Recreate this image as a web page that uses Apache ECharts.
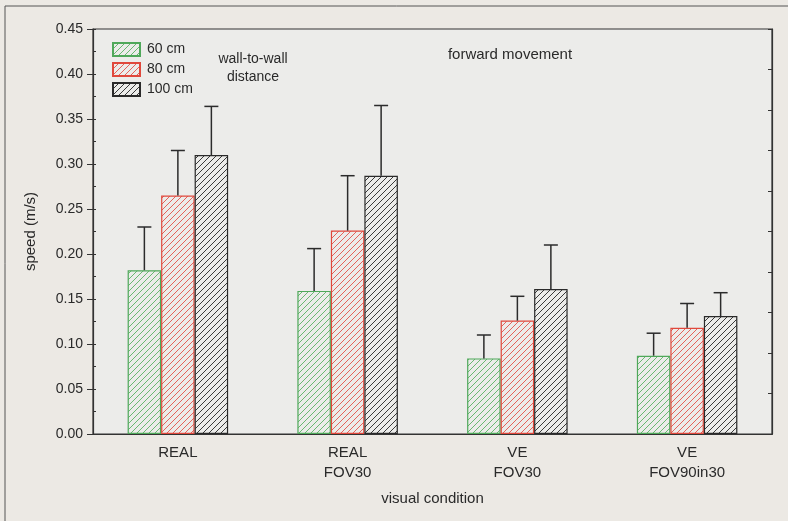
<!DOCTYPE html>
<html><head><meta charset="utf-8">
<script src="https://cdn.jsdelivr.net/npm/echarts@6/dist/echarts.min.js"></script>
<style>html,body{margin:0;padding:0;background:#ece9e4;}#c{width:788px;height:521px;}</style>
</head><body><div id="c"></div>
<script>
const categories = ['REAL', 'REAL\nFOV30', 'VE\nFOV30', 'VE\nFOV90in30'];
const seriesNames = ['60 cm', '80 cm', '100 cm'];
const mean60 = [0.182, 0.159, 0.084, 0.087];
const mean80 = [0.265, 0.226, 0.126, 0.118];
const mean100 = [0.310, 0.287, 0.161, 0.131];
const err60 = [0.230, 0.206, 0.110, 0.112];
const err80 = [0.315, 0.287, 0.153, 0.145];
const err100 = [0.364, 0.365, 0.210, 0.157];
const yTicks = [0, 0.05, 0.10, 0.15, 0.20, 0.25, 0.30, 0.35, 0.40, 0.45];

const borderColors = ['#4fa85a', '#e0483c', '#2a2a2a'];
const hatchColors = ['#6ab872', '#e4625a', '#3a3a3a'];
const plotBg = '#ececea';

function hatch(color) {
  const s = 6;
  const cv = document.createElement('canvas');
  cv.width = s; cv.height = s;
  const g = cv.getContext('2d');
  g.fillStyle = plotBg; g.fillRect(0, 0, s, s);
  g.fillStyle = color;
  for (let x = 0; x < s; x++) {
    g.fillRect(x, s - 1 - x, 1, 1);
  }
  return { image: cv, repeat: 'repeat' };
}

const means = [mean60, mean80, mean100];
const errs = [err60, err80, err100];
const BW = 33.5;

const chart = echarts.init(document.getElementById('c'), null, { renderer: 'canvas' });
const series = [];
means.forEach((m, i) => {
  series.push({
    name: seriesNames[i], type: 'bar', data: m, barWidth: BW, barGap: '0%',
    xAxisIndex: 0, yAxisIndex: 0,
    itemStyle: { color: hatch(hatchColors[i]), borderColor: borderColors[i], borderWidth: 1.2 },
    emphasis: { disabled: true }, z: 2
  });
});
errs.forEach((e, i) => {
  series.push({
    type: 'custom', xAxisIndex: 0, yAxisIndex: 0, z: 3,
    data: e.map((v, k) => [k, means[i][k], v]),
    renderItem: function (params, api) {
      const k = api.value(0);
      const base = api.coord([k, api.value(1)]);
      const top = api.coord([k, api.value(2)]);
      const x = base[0] + (i - 1) * BW;
      const cap = 7;
      return {
        type: 'group', children: [
          { type: 'line', shape: { x1: x, y1: base[1], x2: x, y2: top[1] }, style: { stroke: '#2b2b2b', lineWidth: 1.5 } },
          { type: 'line', shape: { x1: x - cap, y1: top[1], x2: x + cap, y2: top[1] }, style: { stroke: '#2b2b2b', lineWidth: 1.5 } }
        ]
      };
    }
  });
});

chart.setOption({
  backgroundColor: '#ece9e4',
  animation: false,
  textStyle: { fontFamily: 'Liberation Sans, Arial, sans-serif' },
  grid: { left: 93, right: 16, top: 29, bottom: 87, show: true, backgroundColor: plotBg, borderColor: '#333', borderWidth: 1.2 },
  legend: {
    data: seriesNames.map(n => ({ name: n, icon: 'rect' })), orient: 'vertical', left: 112, top: 42, itemWidth: 27, itemHeight: 13, itemGap: 5,
    textStyle: { fontSize: 14, color: '#2a2a2a', padding: [0, 0, 0, 2] }, selectedMode: false, padding: 0
  },
  xAxis: [
    {
      type: 'category', data: categories, position: 'bottom',
      name: 'visual condition', nameLocation: 'middle', nameGap: 57,
      nameTextStyle: { fontSize: 15, color: '#2a2a2a' },
      axisLine: { lineStyle: { color: '#333', width: 1.2 } },
      axisTick: { inside: true, alignWithLabel: true, length: 5, lineStyle: { color: '#333' } },
      axisLabel: { fontSize: 15, color: '#2a2a2a', margin: 9, lineHeight: 20 }
    },
    {
      type: 'category', data: categories, position: 'top',
      axisLine: { lineStyle: { color: '#333', width: 1.2 } },
      axisTick: { inside: true, alignWithLabel: true, length: 5, lineStyle: { color: '#333' } },
      axisLabel: { show: false }
    }
  ],
  yAxis: [
    {
      type: 'value', min: 0, max: 0.45, interval: 0.05, position: 'left',
      name: 'speed (m/s)', nameLocation: 'middle', nameGap: 55, nameRotate: 90,
      nameTextStyle: { fontSize: 15, color: '#2a2a2a' },
      axisLine: { show: true, lineStyle: { color: '#333', width: 1.2 } },
      axisTick: { show: true, length: 6, lineStyle: { color: '#333' } },
      axisLabel: { fontSize: 14, color: '#2a2a2a', margin: 10, formatter: v => v.toFixed(2) },
      splitLine: { show: false }
    },
    {
      type: 'value', min: 0, max: 0.45, interval: 0.025, position: 'left',
      axisLine: { show: false },
      axisTick: { show: true, inside: true, length: 3, lineStyle: { color: '#333' } },
      axisLabel: { show: false }, splitLine: { show: false }
    },
    {
      type: 'value', min: 0, max: 0.45, interval: 0.045, position: 'right',
      axisLine: { show: true, lineStyle: { color: '#333', width: 1.2 } },
      axisTick: { show: true, inside: true, length: 4, lineStyle: { color: '#333' } },
      axisLabel: { show: false }, splitLine: { show: false }
    }
  ],
  graphic: [
    { type: 'line', shape: { x1: 5, y1: 6, x2: 788, y2: 6 }, style: { stroke: '#555', lineWidth: 1 } },
    { type: 'line', shape: { x1: 5, y1: 6, x2: 5, y2: 521 }, style: { stroke: '#555', lineWidth: 1 } },
    { type: 'text', style: { text: 'wall-to-wall\ndistance', x: 253, y: 50, font: '14px "Liberation Sans", Arial, sans-serif', fill: '#2a2a2a', textAlign: 'center', lineHeight: 18 } },
    { type: 'text', style: { text: 'forward movement', x: 510, y: 47, font: '15px "Liberation Sans", Arial, sans-serif', fill: '#2a2a2a', textAlign: 'center' } }
  ],
  series: series
});
</script></body></html>
